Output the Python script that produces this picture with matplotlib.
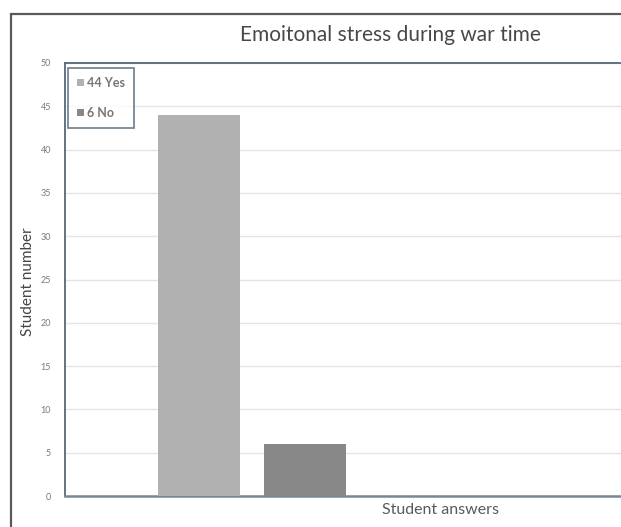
import matplotlib.pyplot as plt
from matplotlib.patches import Rectangle

plt.rcParams['font.family'] = ['Lato', 'DejaVu Sans']

# survey answers
answers = ['Yes', 'No']
counts = [44, 6]
bar_colors = ['#b1b1b1', '#888888']
legend_labels = ['44 Yes', '6 No']
y_ticks = [0, 5, 10, 15, 20, 25, 30, 35, 40, 45, 50]

fig = plt.figure(figsize=(6.21, 5.27), dpi=100)

# chart frame running off the right and bottom edges
fig.patches.append(Rectangle((11 / 621, -0.1), 1.2, 1.1 - 14 / 527,
                             transform=fig.transFigure, fill=False,
                             edgecolor='#5a5a5a', linewidth=1.6))

ax = fig.add_axes([65 / 621, 31 / 527, 750 / 621, 433 / 527])
positions = [0, 1]
bars = ax.bar(positions, counts, width=0.78, color=bar_colors, zorder=3)

ax.set_xlim(-1.264, 5.81)
ax.set_ylim(0, 50)
ax.set_yticks(y_ticks)
ax.set_xticks([])
ax.tick_params(axis='y', length=0, labelsize=6.5, labelcolor='#7a7a7a', pad=10)
ax.yaxis.grid(True, color='#e4e4e4', linewidth=1)
ax.set_axisbelow(True)

for side in ['left', 'top', 'bottom']:
    ax.spines[side].set_color('#56687a')
    ax.spines[side].set_linewidth(1.3)
ax.spines['bottom'].set_color('#7b8794')
ax.spines['bottom'].set_linewidth(1.8)
ax.spines['right'].set_visible(False)

ax.set_xlabel('Student answers', fontsize=11.5, color='#5a5a5a')
ax.xaxis.set_label_coords(0.5, -14 / 433)
ax.xaxis.label.set_va('center')
fig.text(28 / 621, 1 - 282 / 527, 'Student number', rotation=90,
         ha='center', va='center', fontsize=11, color='#444444')
fig.text(390 / 621, 1 - 35 / 527, 'Emoitonal stress during war time',
         ha='center', va='center', fontsize=15, color='#484848')

leg = ax.legend(bars, legend_labels, loc='upper left',
                bbox_to_anchor=(3 / 750, 1 - 5 / 433), fontsize=9,
                handlelength=0.55, handleheight=0.55, handletextpad=0.25,
                labelspacing=1.45, borderpad=0.7, borderaxespad=0,
                fancybox=False, labelcolor='#777777')
leg.get_frame().set_edgecolor('#56687a')
leg.get_frame().set_linewidth(1.3)
for t in leg.get_texts():
    t.set_fontweight('bold')

fig.savefig('out.png', dpi=100)
